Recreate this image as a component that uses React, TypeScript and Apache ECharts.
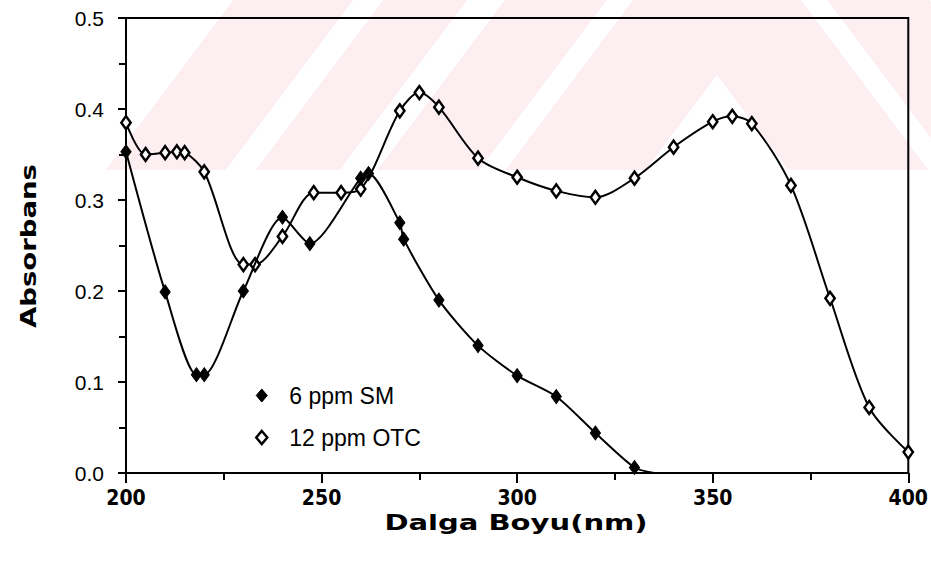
import React, { useEffect, useRef } from "react";
import * as echarts from "echarts";

// ---- data ----
const seriesNames = ["6 ppm SM", "12 ppm OTC"];

const wavelengthSM = [200, 210, 218, 220, 230, 240, 247, 260, 262, 270, 271, 280, 290, 300, 310, 320, 330, 335];
const absorbanceSM = [0.353, 0.199, 0.108, 0.108, 0.2, 0.281, 0.252, 0.324, 0.329, 0.275, 0.257, 0.19, 0.14, 0.107, 0.084, 0.044, 0.006, 0.0];

const wavelengthOTC = [200, 205, 210, 213, 215, 220, 230, 233, 240, 248, 255, 260, 270, 275, 280, 290, 300, 310, 320, 330, 340, 350, 355, 360, 370, 380, 390, 400];
const absorbanceOTC = [0.385, 0.35, 0.352, 0.353, 0.352, 0.331, 0.229, 0.229, 0.26, 0.308, 0.308, 0.312, 0.398, 0.418, 0.402, 0.346, 0.325, 0.31, 0.303, 0.324, 0.358, 0.386, 0.392, 0.384, 0.316, 0.192, 0.072, 0.023];

const xMin = 200;
const xMax = 400;
const xInterval = 50;
const yTickLabels = ["0.0", "0.1", "0.2", "0.3", "0.4", "0.5"];
const xTitle = "Dalga Boyu(nm)";
const yTitle = "Absorbans";

// faint watermark (nested chevrons) behind the plot
const wmCx = 717;
const wmSlope = 0.75;
const wmBase = 170;
const wmApexes = [-645, -485, -445, -333, -283, -147, -112, 75];

const DIAMOND = "path://M0,-1L0.85,0L0,1L-0.85,0Z";

export default function App() {
  const ref = useRef<HTMLDivElement>(null);

  useEffect(() => {
    if (!ref.current) return;
    const chart = echarts.init(ref.current, undefined, { renderer: "svg" });

    const watermark = wmApexes.map((a, i) => ({
      type: "polygon",
      z: -10 + i,
      silent: true,
      shape: {
        points: [
          [wmCx, a],
          [wmCx + wmSlope * (wmBase - a), wmBase],
          [wmCx - wmSlope * (wmBase - a), wmBase],
        ],
      },
      style: { fill: i % 2 === 0 ? "#fdeef1" : "#ffffff" },
    }));

    const smData = wavelengthSM.map((x, i) =>
      i === wavelengthSM.length - 1
        ? { value: [x, absorbanceSM[i]], symbol: "none" }
        : [x, absorbanceSM[i]]
    );
    const otcData = wavelengthOTC.map((x, i) => [x, absorbanceOTC[i]]);

    chart.setOption({
      animation: false,
      backgroundColor: "#ffffff",
      grid: {
        left: 126,
        right: 21,
        top: 18,
        bottom: 90,
        show: true,
        borderColor: "#000",
        borderWidth: 2,
        backgroundColor: "transparent",
      },
      graphic: [
        ...watermark,
        {
          type: "text",
          x: 516,
          y: 522,
          scaleX: 1.32,
          style: {
            text: xTitle,
            fill: "#000",
            font: 'bold 22px "DejaVu Sans", sans-serif',
            align: "center",
            verticalAlign: "middle",
            textAlign: "center",
            textVerticalAlign: "middle",
          },
        },
        {
          type: "text",
          x: 28,
          y: 246,
          rotation: Math.PI / 2,
          scaleX: 1.25,
          style: {
            text: yTitle,
            fill: "#000",
            font: 'bold 22px "DejaVu Sans", sans-serif',
            align: "center",
            verticalAlign: "middle",
            textAlign: "center",
            textVerticalAlign: "middle",
          },
        },
      ],
      legend: {
        orient: "vertical",
        left: 255,
        top: 384,
        padding: 0,
        itemGap: 19,
        itemWidth: 45,
        itemHeight: 13,
        symbolKeepAspect: true,
        textStyle: {
          color: "#000",
          fontSize: 23,
          fontFamily: '"Liberation Sans", Arial, sans-serif',
        },
        data: [
          {
            name: seriesNames[0],
            icon: DIAMOND,
            itemStyle: { color: "#000", borderColor: "#000", borderWidth: 1 },
          },
          {
            name: seriesNames[1],
            icon: DIAMOND,
            itemStyle: { color: "#fff", borderColor: "#000", borderWidth: 2.5 },
          },
        ],
      },
      xAxis: {
        type: "value",
        min: xMin,
        max: xMax,
        interval: xInterval,
        minorTick: { show: true, splitNumber: 2, length: 7, lineStyle: { color: "#000", width: 2 } },
        axisLine: { show: true, onZero: false, lineStyle: { color: "#000", width: 2 } },
        axisTick: { show: true, inside: false, length: 10, lineStyle: { color: "#000", width: 2 } },
        splitLine: { show: false },
        axisLabel: {
          color: "#000",
          fontSize: 21,
          fontWeight: "bold",
          fontFamily: '"Liberation Sans Narrow", "DejaVu Sans Condensed", "Liberation Sans", sans-serif',
          margin: 14,
        },
      },
      yAxis: {
        type: "value",
        min: 0,
        max: 0.5,
        interval: 0.1,
        minorTick: { show: true, splitNumber: 2, length: 7, lineStyle: { color: "#000", width: 2 } },
        axisLine: { show: true, onZero: false, lineStyle: { color: "#000", width: 2 } },
        axisTick: { show: true, inside: false, length: 8, lineStyle: { color: "#000", width: 2 } },
        splitLine: { show: false },
        axisLabel: {
          color: "#000",
          fontSize: 21,
          fontFamily: '"Liberation Sans", Arial, sans-serif',
          margin: 22,
          formatter: (v: number) => yTickLabels[Math.round(v * 10)],
        },
      },
      series: [
        {
          name: seriesNames[0],
          type: "line",
          data: smData,
          smooth: 0.25,
          symbol: DIAMOND,
          symbolSize: [12, 14],
          symbolKeepAspect: true,
          itemStyle: { color: "#000", borderColor: "#000", borderWidth: 1 },
          lineStyle: { color: "#000", width: 2 },
          z: 3,
        },
        {
          name: seriesNames[1],
          type: "line",
          data: otcData,
          smooth: 0.3,
          symbol: DIAMOND,
          symbolSize: [11, 13],
          symbolKeepAspect: true,
          itemStyle: { color: "#fff", borderColor: "#000", borderWidth: 2.5 },
          lineStyle: { color: "#000", width: 2 },
          z: 2,
        },
      ],
    });

    return () => chart.dispose();
  }, []);

  return (
    <div
      ref={ref}
      style={{ position: "fixed", left: 0, top: 0, width: 931, height: 563, background: "#fff" }}
    />
  );
}
